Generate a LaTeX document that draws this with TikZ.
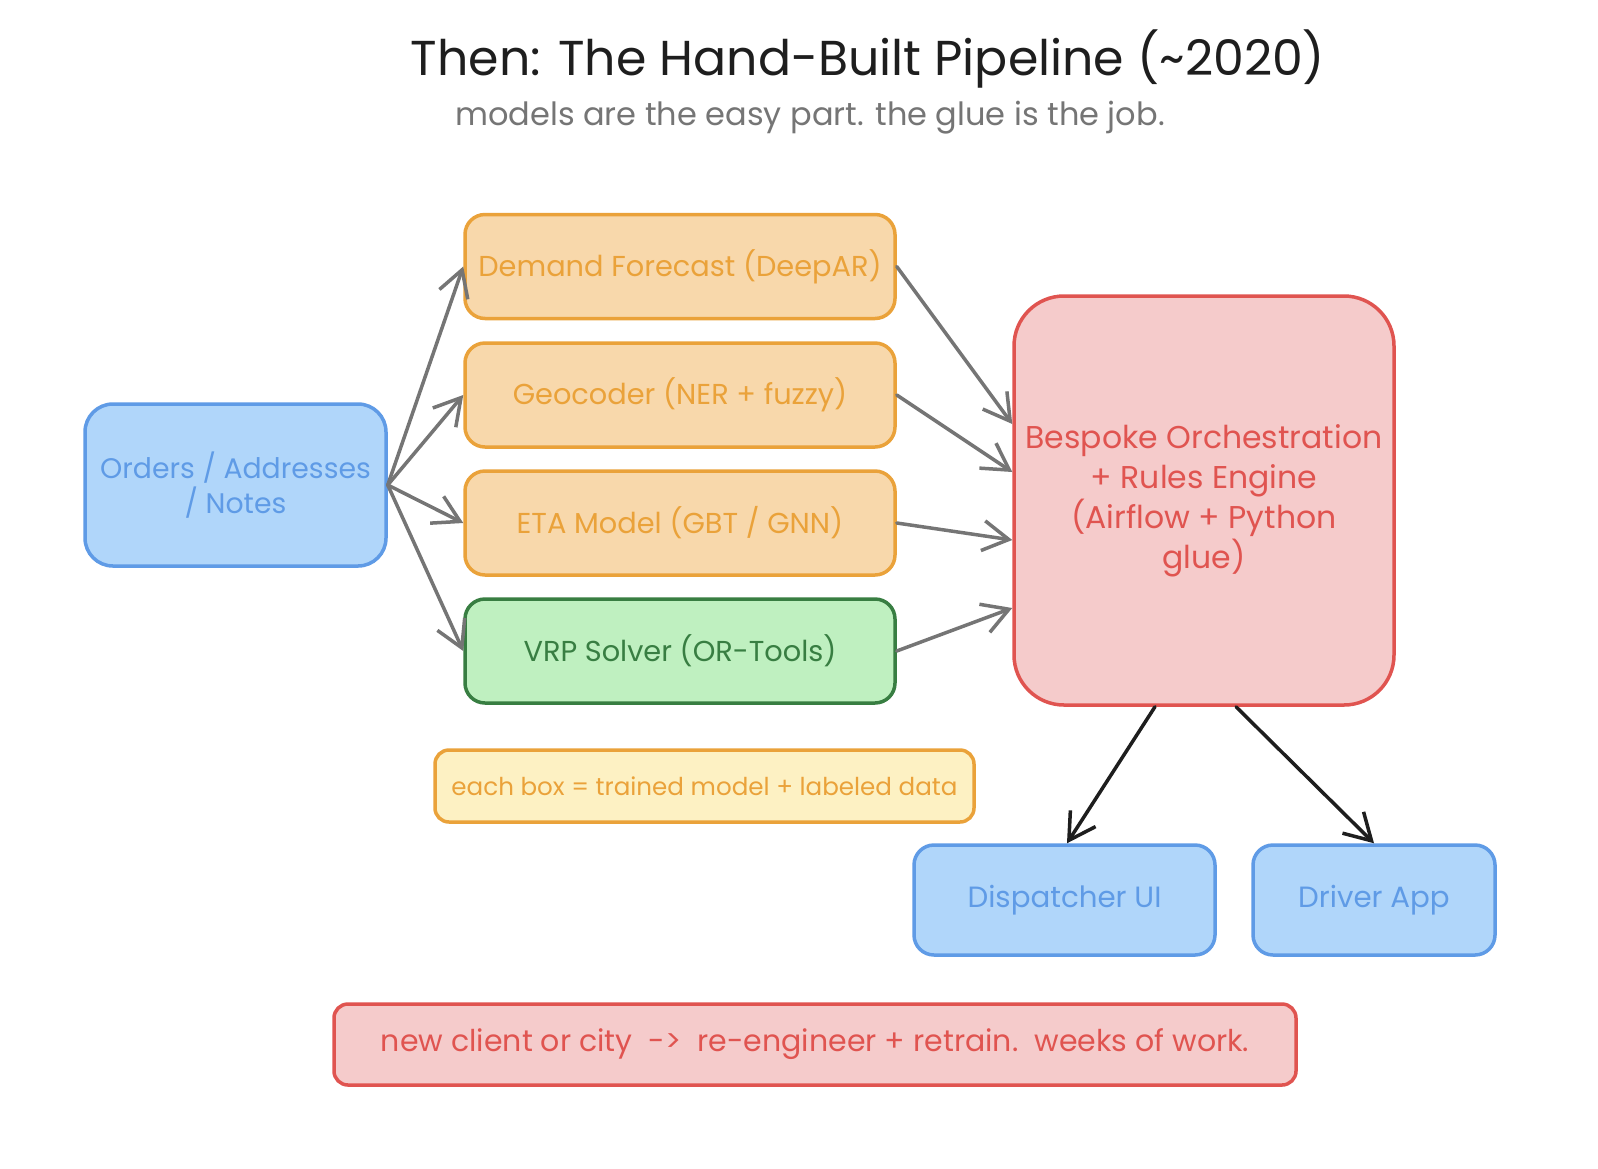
\documentclass[tikz,border=0pt]{standalone}
\usepackage{fontspec}
\setmainfont{Poppins}
\usetikzlibrary{arrows.meta,calc}
\definecolor{bluefill}{HTML}{B0D6FA}
\definecolor{bluestroke}{HTML}{5F9BE6}
\definecolor{orfill}{HTML}{F8D8AB}
\definecolor{orstroke}{HTML}{EAA23A}
\definecolor{grfill}{HTML}{BFF0C0}
\definecolor{grstroke}{HTML}{387E42}
\definecolor{rdfill}{HTML}{F5CBCB}
\definecolor{rdstroke}{HTML}{E05450}
\definecolor{notefill}{HTML}{FDF1C3}
\definecolor{arrgrey}{HTML}{757575}
\definecolor{ink}{HTML}{1E1E1E}
\tikzset{
  boxbase/.style={draw, line width=3.5pt, align=center, inner sep=0pt, font=\fontsize{28.8}{35}\selectfont},
  bluebox/.style={boxbase, fill=bluefill, draw=bluestroke, text=bluestroke, rounded corners=24pt},
  orbox/.style={boxbase, fill=orfill, draw=orstroke, text=orstroke, rounded corners=20pt, minimum width=430pt, minimum height=104pt},
  grbox/.style={boxbase, fill=grfill, draw=grstroke, text=grstroke, rounded corners=20pt, minimum width=430pt, minimum height=104pt},
  rdbox/.style={boxbase, fill=rdfill, draw=rdstroke, text=rdstroke},
  notebox/.style={boxbase, fill=notefill, draw=orstroke, text=orstroke, rounded corners=14pt},
  garrow/.style={draw=arrgrey, line width=3.5pt, line cap=round, -{Straight Barb[length=26pt,width=30pt,line width=3.5pt]}},
  barrow/.style={draw=ink, line width=3.5pt, line cap=round, -{Straight Barb[length=26pt,width=30pt,line width=3.5pt]}},
}
\begin{document}
\begin{tikzpicture}[x=1pt,y=-1pt]
\useasboundingbox (0,0) rectangle (1598,1168);
\fill[white] (0,0) rectangle (1598,1168);

\node[text=ink, font=\fontsize{49}{54}\selectfont] (title) at (868,59) {Then: The Hand-Built Pipeline (\textasciitilde 2020)};
\node[text=arrgrey, font=\fontsize{32}{36}\selectfont] (subtitle) at (810,118) {models are the easy part. the glue is the job.};

\node[bluebox, minimum width=301pt, minimum height=162pt, rounded corners=28pt, font=\fontsize{28.3}{35}\selectfont] (orders) at (235.5,485) {Orders / Addresses\\/ Notes};

\node[orbox] (demand) at (680,266.5) {Demand Forecast (DeepAR)};
\node[orbox] (geo) at (680,395) {Geocoder (NER + fuzzy)};
\node[orbox] (eta) at (680,523) {ETA Model (GBT / GNN)};
\node[grbox] (vrp) at (680,651) {VRP Solver (OR-Tools)};

\node[rdbox, minimum width=380pt, minimum height=409pt, rounded corners=50pt, font=\fontsize{31.5}{40}\selectfont] (orch) at (1204,500.5) {Bespoke Orchestration\\+ Rules Engine\\(Airflow + Python\\glue)};

\node[notebox, minimum width=539pt, minimum height=72pt, font=\fontsize{24.6}{28}\selectfont] (note) at (704.5,786) {each box = trained model + labeled data};

\node[bluebox, minimum width=301pt, minimum height=110pt, rounded corners=20pt, font=\fontsize{29.3}{35}\selectfont] (disp) at (1064.5,900) {Dispatcher UI};
\node[bluebox, minimum width=242pt, minimum height=110pt, rounded corners=20pt, font=\fontsize{29.3}{35}\selectfont] (drv) at (1374,900) {Driver App};

\node[rdbox, minimum width=962pt, minimum height=81pt, rounded corners=14pt, font=\fontsize{30}{34}\selectfont] (bottom) at (815,1044.5) {new client or city\ \ ->\ \ re-engineer + retrain.\ \ weeks of work.};

\draw[garrow] (orders.east) -- (demand.west);
\draw[garrow] (orders.east) -- (geo.west);
\draw[garrow] (orders.east) -- (eta.west);
\draw[garrow] (orders.east) -- (vrp.west);

\draw[garrow] (demand.east) -- ([yshift=76.5pt]orch.west);
\draw[garrow] (geo.east) -- ([yshift=28.5pt]orch.west);
\draw[garrow] (eta.east) -- ([yshift=-39.5pt]orch.west);
\draw[garrow] (vrp.east) -- ([yshift=-107.5pt]orch.west);

\draw[barrow] ([xshift=-49pt]orch.south) -- ([xshift=2.5pt]disp.north);
\draw[barrow] ([xshift=32pt]orch.south) -- (drv.north);
\end{tikzpicture}
\end{document}
